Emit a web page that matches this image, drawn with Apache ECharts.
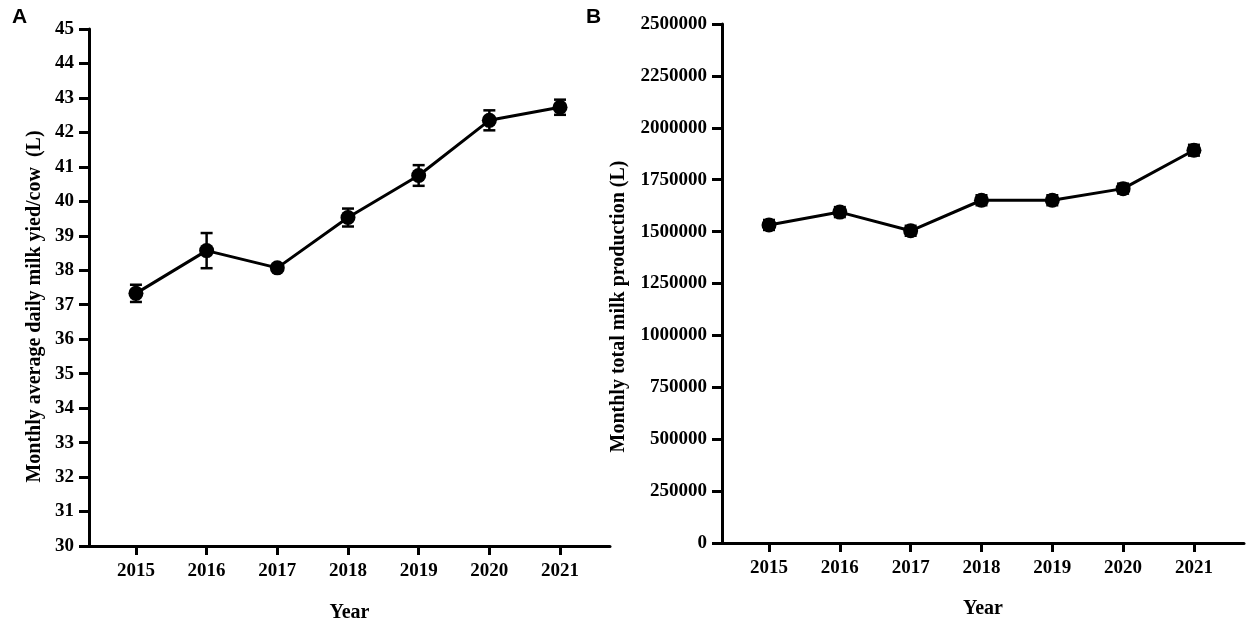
<!DOCTYPE html>
<html>
<head>
<meta charset="utf-8">
<script src="https://cdn.jsdelivr.net/npm/echarts@6/dist/echarts.min.js"></script>
<style>
html,body{margin:0;padding:0;background:#fff;}
#c{width:1248px;height:623px;}
</style>
</head>
<body>
<div id="c"></div>
<script>
var years = [2015, 2016, 2017, 2018, 2019, 2020, 2021];
var yieldMean = [37.33, 38.57, 38.07, 39.53, 40.75, 42.35, 42.73];
var yieldErr = [0.25, 0.51, 0.08, 0.26, 0.30, 0.29, 0.22];
var prodMean = [1532000, 1594000, 1504000, 1651000, 1651000, 1707000, 1892000];
var prodErr = [24000, 24000, 24000, 24000, 24000, 24000, 26000];

var serif = '"Liberation Serif", "Times New Roman", serif';
var black = '#000';

function pairs(xs, ys) { return xs.map(function (x, i) { return [x, ys[i]]; }); }
function errData(xs, m, e) { return xs.map(function (x, i) { return [x, m[i] - e[i], m[i] + e[i]]; }); }
function plain(v) { return String(v); }

function errRender(params, api) {
  var x = api.value(0);
  var lo = api.coord([x, api.value(1)]);
  var hi = api.coord([x, api.value(2)]);
  var w = 6;
  var st = { stroke: black, lineWidth: 2.5 };
  return {
    type: 'group',
    children: [
      { type: 'line', shape: { x1: lo[0], y1: lo[1], x2: hi[0], y2: hi[1] }, style: st },
      { type: 'line', shape: { x1: lo[0] - w, y1: lo[1], x2: lo[0] + w, y2: lo[1] }, style: st },
      { type: 'line', shape: { x1: hi[0] - w, y1: hi[1], x2: hi[0] + w, y2: hi[1] }, style: st }
    ]
  };
}

function xAxisDef(idx, gap) {
  return {
    type: 'value', gridIndex: idx, min: 2014.336, max: 2021.707,
    axisLine: { show: true, lineStyle: { color: black, width: 3 } },
    axisTick: { show: true, customValues: years, length: 9, lineStyle: { color: black, width: 3 } },
    axisLabel: { customValues: years, formatter: plain, margin: 16, color: black, fontFamily: serif, fontWeight: 'bold', fontSize: 19 },
    splitLine: { show: false },
    name: 'Year', nameLocation: 'middle', nameGap: gap,
    nameTextStyle: { color: black, fontFamily: serif, fontWeight: 'bold', fontSize: 20 }
  };
}

var chart = echarts.init(document.getElementById('c'));
chart.setOption({
  backgroundColor: '#fff',
  animation: false,
  graphic: [
    { type: 'text', left: 12, top: 7, style: { text: 'A', font: 'bold 21px "Liberation Sans", Arial, sans-serif', fill: black } },
    { type: 'text', left: 586, top: 7, style: { text: 'B', font: 'bold 21px "Liberation Sans", Arial, sans-serif', fill: black } }
  ],
  grid: [
    { left: 89, top: 29, width: 521, height: 517, containLabel: false, outerBoundsMode: 'none' },
    { left: 722, top: 24, width: 522, height: 519, containLabel: false, outerBoundsMode: 'none' }
  ],
  xAxis: [xAxisDef(0, 57), xAxisDef(1, 56)],
  yAxis: [
    {
      type: 'value', gridIndex: 0, min: 30, max: 45, interval: 1,
      axisLine: { show: true, lineStyle: { color: black, width: 3 } },
      axisTick: { show: true, length: 10, lineStyle: { color: black, width: 3 } },
      axisLabel: { formatter: plain, margin: 15, color: black, fontFamily: serif, fontWeight: 'bold', fontSize: 19 },
      splitLine: { show: false },
      name: 'Monthly average daily milk yied/cow  (L)', nameLocation: 'middle', nameGap: 44,
      nameTextStyle: { color: black, fontFamily: serif, fontWeight: 'bold', fontSize: 20, padding: [0, 38, 0, 0] }
    },
    {
      type: 'value', gridIndex: 1, min: 0, max: 2500000, interval: 250000,
      axisLine: { show: true, lineStyle: { color: black, width: 3 } },
      axisTick: { show: true, length: 10, lineStyle: { color: black, width: 3 } },
      axisLabel: { formatter: plain, margin: 15, color: black, fontFamily: serif, fontWeight: 'bold', fontSize: 19 },
      splitLine: { show: false },
      name: 'Monthly total milk production (L)', nameLocation: 'middle', nameGap: 93,
      nameTextStyle: { color: black, fontFamily: serif, fontWeight: 'bold', fontSize: 20, padding: [0, 46, 0, 0] }
    }
  ],
  series: [
    {
      type: 'line', xAxisIndex: 0, yAxisIndex: 0, data: pairs(years, yieldMean),
      symbol: 'circle', symbolSize: 15, itemStyle: { color: black },
      lineStyle: { color: black, width: 3 }, z: 3
    },
    {
      type: 'custom', xAxisIndex: 0, yAxisIndex: 0, data: errData(years, yieldMean, yieldErr),
      renderItem: errRender, encode: { x: 0, y: [1, 2] }, z: 4
    },
    {
      type: 'line', xAxisIndex: 1, yAxisIndex: 1, data: pairs(years, prodMean),
      symbol: 'circle', symbolSize: 15, itemStyle: { color: black },
      lineStyle: { color: black, width: 3 }, z: 3
    },
    {
      type: 'custom', xAxisIndex: 1, yAxisIndex: 1, data: errData(years, prodMean, prodErr),
      renderItem: errRender, encode: { x: 0, y: [1, 2] }, z: 4
    }
  ]
});
</script>
</body>
</html>
